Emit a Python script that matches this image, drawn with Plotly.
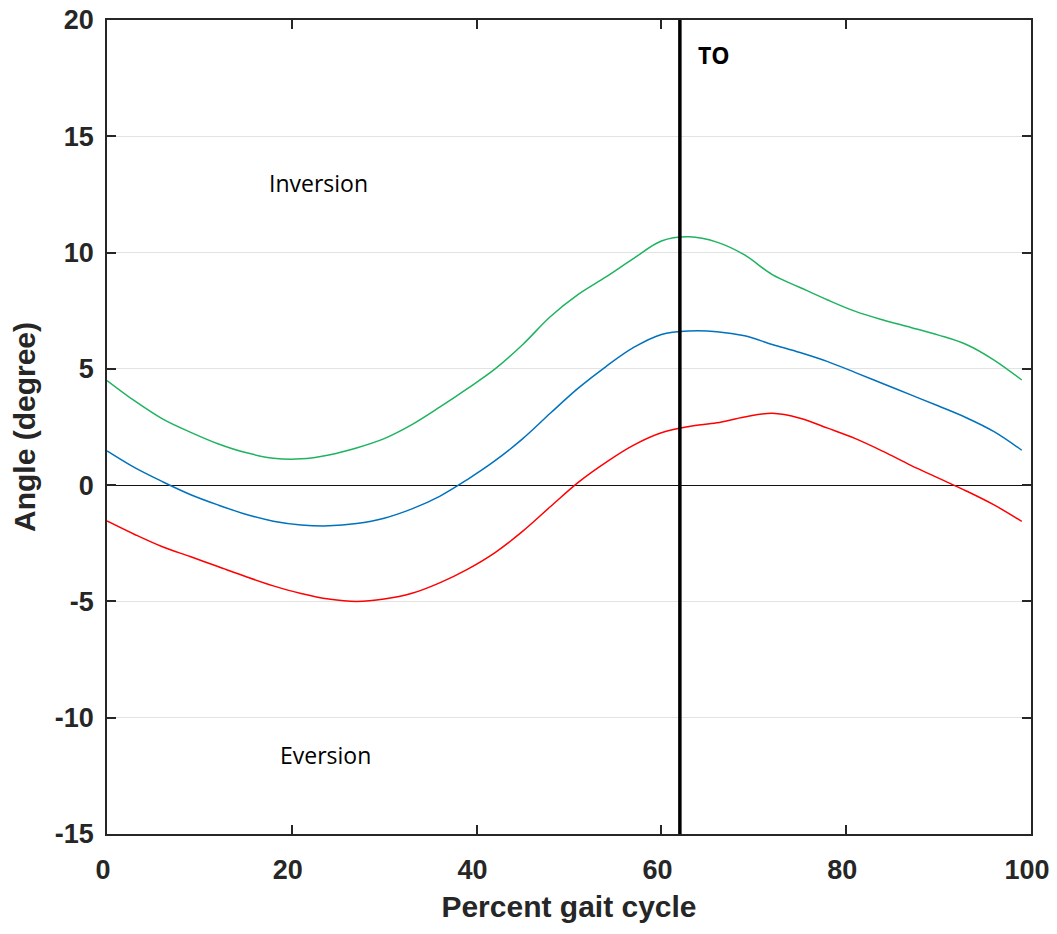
import plotly.graph_objects as go

# Percent gait cycle sample positions
gait_pct = [0, 3, 6, 9, 12, 15, 18, 21, 24, 27, 30, 33, 36, 39, 42, 45, 48, 51,
            54, 57, 60, 63, 66, 69, 72, 75, 78, 81, 84, 87, 90, 93, 96, 99]

# Upper curve (green)
upper = [4.5, 3.62, 2.85, 2.28, 1.78, 1.40, 1.16, 1.13, 1.30, 1.60, 2.0, 2.6,
         3.35, 4.15, 5.0, 6.05, 7.25, 8.2, 8.95, 9.75, 10.5, 10.68, 10.45, 9.9,
         9.05, 8.5, 7.96, 7.47, 7.1, 6.78, 6.45, 6.05, 5.38, 4.52]

# Mean curve (blue)
mean = [1.47, 0.75, 0.15, -0.4, -0.85, -1.25, -1.55, -1.71, -1.75, -1.65, -1.42,
        -1.02, -0.48, 0.24, 1.05, 2.0, 3.1, 4.17, 5.1, 5.92, 6.48, 6.63, 6.6,
        6.42, 6.05, 5.7, 5.31, 4.84, 4.36, 3.88, 3.4, 2.9, 2.3, 1.5]

# Lower curve (red)
lower = [-1.54, -2.12, -2.65, -3.07, -3.5, -3.93, -4.33, -4.66, -4.9, -5.0, -4.9,
         -4.65, -4.2, -3.62, -2.9, -1.98, -0.92, 0.12, 0.98, 1.72, 2.25, 2.52,
         2.68, 2.93, 3.09, 2.88, 2.45, 2.0, 1.45, 0.85, 0.3, -0.25, -0.85, -1.56]

toe_off = 62

x_ticks = [0, 20, 40, 60, 80, 100]
x_tick_text = ["0", "20", "40", "60", "80", "100"]
y_ticks = [-15, -10, -5, 0, 5, 10, 15, 20]
y_tick_text = ["-15", "-10", "-5", "0", "5", "10", "15", "20"]

axis_color = "#262626"

fig = go.Figure()
for vals, col in [(upper, "#1fb35f"), (mean, "#0072BD"), (lower, "#FF0000")]:
    fig.add_trace(go.Scatter(x=gait_pct, y=vals, mode="lines",
                             line=dict(color=col, width=1.5, shape="spline", smoothing=1.0),
                             showlegend=False, hoverinfo="skip"))

fig.add_shape(type="line", x0=toe_off, x1=toe_off, y0=-15, y1=20, xref="x", yref="y",
              line=dict(color="black", width=3.5))

fig.add_annotation(x=65.7, y=18.5, text="<b>TO</b>", showarrow=False,
                   font=dict(family="Open Sans", size=23, color="black"))
fig.add_annotation(x=22.9, y=13.0, text="Inversion", showarrow=False,
                   font=dict(family="Open Sans", size=23, color="black"))
fig.add_annotation(x=23.7, y=-11.6, text="Eversion", showarrow=False,
                   font=dict(family="Open Sans", size=23, color="black"))

fig.update_layout(
    width=1041, height=918,
    margin=dict(l=99, r=18, t=12, b=92),
    plot_bgcolor="white", paper_bgcolor="white",
    font=dict(family="Liberation Sans", color=axis_color),
)
fig.update_xaxes(
    range=[0, 100], tickvals=x_ticks, ticktext=x_tick_text, ticks="inside", ticklen=9,
    tickwidth=1.5, tickcolor=axis_color, showline=True, linecolor=axis_color, linewidth=1.5,
    mirror="ticks", showgrid=False, zeroline=False, ticklabeloverflow="allow",
    automargin=False, ticklabelstandoff=11, ticklabelshift=-4,
    tickfont=dict(family="Liberation Sans", size=27, color=axis_color, weight="bold"),
    title=dict(text="<b>Percent gait cycle</b>", standoff=12,
               font=dict(family="Liberation Sans", size=30, color=axis_color)),
)
fig.update_yaxes(
    range=[-15, 20], tickvals=y_ticks, ticktext=y_tick_text, ticks="inside", ticklen=9,
    tickwidth=1.5, tickcolor=axis_color, showline=True, linecolor=axis_color, linewidth=1.5,
    mirror="ticks", showgrid=True, gridcolor="#e3e3e3", gridwidth=1.2,
    zeroline=True, zerolinecolor="#111111", zerolinewidth=1.2, ticklabeloverflow="allow",
    automargin=False, ticklabelstandoff=6,
    tickfont=dict(family="Liberation Sans", size=27, color=axis_color, weight="bold"),
    title=dict(text="<b>Angle (degree)</b>", standoff=13,
               font=dict(family="Liberation Sans", size=30, color=axis_color)),
)

fig.write_html("out.html", config={"displayModeBar": False})
